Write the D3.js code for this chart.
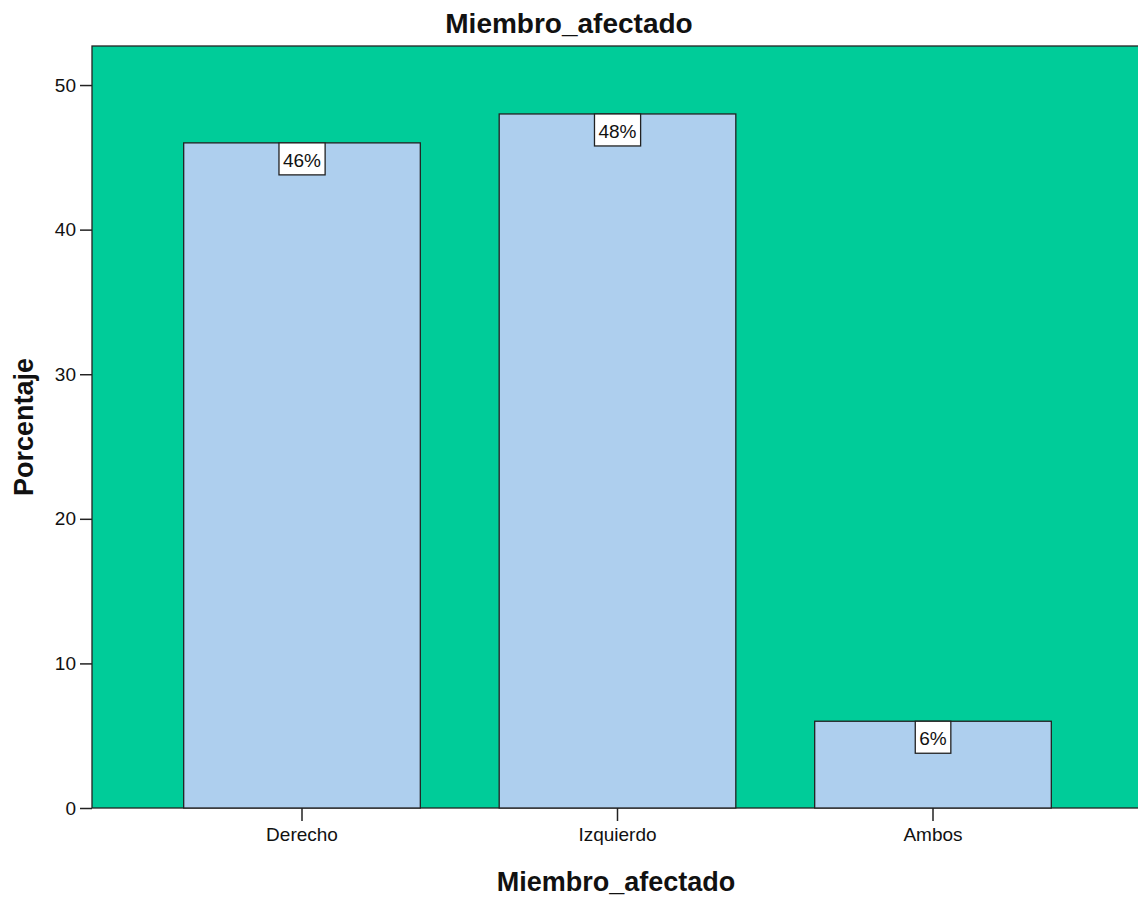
<!DOCTYPE html>
<html>
<head>
<meta charset="utf-8">
<script src="https://cdn.jsdelivr.net/npm/d3@7"></script>
<style>
  html, body { margin: 0; padding: 0; background: #fff; }
  svg { display: block; }
  text { font-family: "Liberation Sans", Arial, sans-serif; fill: #111; }
</style>
</head>
<body>
<script>
// Frequency chart of the affected limb (percent of cases)
const categories = ["Derecho", "Izquierdo", "Ambos"];
const percentages = [46, 48, 6];
const yTicks = [0, 10, 20, 30, 40, 50];

const W = 1138, H = 898;
const plot = { left: 92, top: 46, right: 1145, bottom: 808 };
const FONT = "Liberation Sans, Arial, sans-serif";

const svg = d3.select("body").append("svg")
  .attr("width", W).attr("height", H);

const y = d3.scaleLinear()
  .domain([0, 52.7])
  .range([plot.bottom, plot.top]);

const x = d3.scaleBand()
  .domain(categories)
  .range([144.25, 1090.75])
  .paddingInner(0.25)
  .paddingOuter(0.125);

// plot background
svg.append("rect")
  .attr("x", plot.left).attr("y", plot.top)
  .attr("width", plot.right - plot.left)
  .attr("height", plot.bottom - plot.top)
  .attr("fill", "#00CC99")
  .attr("stroke", "#222").attr("stroke-width", 1.3);

// bars
svg.append("g").selectAll("rect")
  .data(categories.map((c, i) => ({ c, v: percentages[i] })))
  .join("rect")
  .attr("x", d => x(d.c))
  .attr("y", d => y(d.v))
  .attr("width", x.bandwidth())
  .attr("height", d => y(0) - y(d.v))
  .attr("fill", "#AECFEE")
  .attr("stroke", "#222").attr("stroke-width", 1.3);

// value labels
const lbl = svg.append("g").selectAll("g")
  .data(categories.map((c, i) => ({ c, v: percentages[i] })))
  .join("g")
  .attr("transform", d => `translate(${x(d.c) + x.bandwidth() / 2},${y(d.v)})`);
lbl.append("text")
  .attr("text-anchor", "middle")
  .attr("y", 24)
  .attr("font-size", 19)
  .text(d => d.v + "%")
  .each(function () {
    const b = this.getBBox();
    d3.select(this.parentNode).insert("rect", "text")
      .attr("x", b.x - 4).attr("y", 0)
      .attr("width", b.width + 8).attr("height", 32)
      .attr("fill", "#fff")
      .attr("stroke", "#222").attr("stroke-width", 1.3);
  });

// y axis
const yAxis = svg.append("g")
  .attr("transform", `translate(${plot.left},0)`)
  .call(d3.axisLeft(y).tickValues(yTicks).tickSize(12).tickPadding(4));
yAxis.select(".domain").remove();
yAxis.selectAll("line").attr("stroke", "#222").attr("stroke-width", 1.5);
yAxis.selectAll("text").attr("font-size", 19)
  .attr("font-family", FONT).attr("fill", "#111");

// x axis
const xAxis = svg.append("g")
  .attr("transform", `translate(0,${plot.bottom})`)
  .call(d3.axisBottom(x).tickSize(13).tickPadding(7));
xAxis.select(".domain").remove();
xAxis.selectAll("line").attr("stroke", "#222").attr("stroke-width", 1.5);
xAxis.selectAll("text").attr("font-size", 19)
  .attr("font-family", FONT).attr("fill", "#111");

// titles
svg.append("text")
  .attr("x", 569).attr("y", 33)
  .attr("text-anchor", "middle")
  .attr("font-size", 28).attr("font-weight", "bold")
  .text("Miembro_afectado");

svg.append("text")
  .attr("x", 616).attr("y", 891)
  .attr("text-anchor", "middle")
  .attr("font-size", 27).attr("font-weight", "bold")
  .text("Miembro_afectado");

svg.append("text")
  .attr("transform", "translate(33,427) rotate(-90)")
  .attr("text-anchor", "middle")
  .attr("font-size", 27).attr("font-weight", "bold")
  .text("Porcentaje");
</script>
</body>
</html>
